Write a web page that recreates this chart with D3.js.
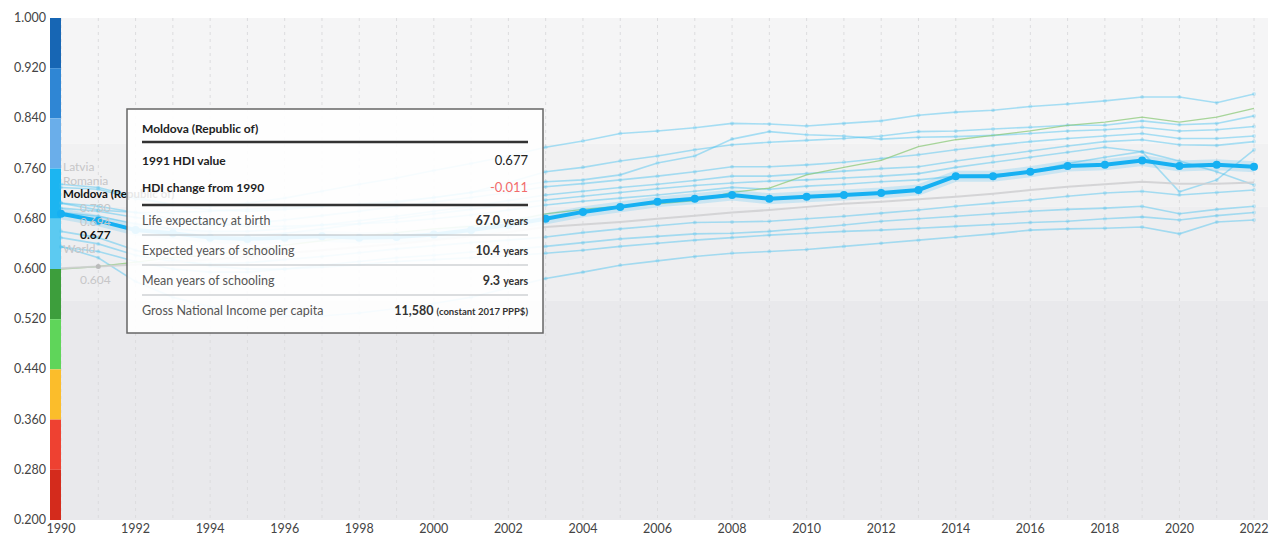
<!DOCTYPE html>
<html>
<head>
<meta charset="utf-8">
<script src="https://cdn.jsdelivr.net/npm/d3@7"></script>
<style>
  body { margin: 0; background: #fff; font-family: Lato, "Open Sans", sans-serif; }
  svg text { font-family: Lato, "Open Sans", sans-serif; }
</style>
</head>
<body>
<div id="vis-hdi"></div>
<script>
// years and tick labels
const years = [1990,1991,1992,1993,1994,1995,1996,1997,1998,1999,2000,2001,2002,2003,2004,2005,2006,2007,2008,2009,2010,2011,2012,2013,2014,2015,2016,2017,2018,2019,2020,2021,2022];
const xTicks = [1990,1992,1994,1996,1998,2000,2002,2004,2006,2008,2010,2012,2014,2016,2018,2020,2022];
const yTicks = [0.2,0.28,0.36,0.44,0.52,0.6,0.68,0.76,0.84,0.92,1.0];

// HDI series
const moldova = [.688,.677,.662,.657,.650,.648,.650,.652,.650,.651, .655,.662,.670,.680,.691,.699,.707,.712,.718,.712, .715,.718,.721,.726,.748,.748,.755,.764,.766,.773, .764,.766,.763];
const world   = [.601,.604,.607,.611,.615,.620,.625,.630,.635,.640, .646,.652,.659,.667,.671,.675,.680,.685,.690,.694, .699,.704,.707,.711,.715,.720,.726,.731,.735,.739, .736,.736,.738];
const turkiye = [.600,.604,.611,.618,.622,.630,.638,.645,.652,.658, .664,.668,.676,.688,.695,.700,.704,.709,.722,.729, .750,.762,.773,.795,.806,.813,.820,.829,.834,.842, .834,.842,.856];
const latvia  = [.730,.727,.712,.703,.700,.705,.713,.724,.735,.745, .757,.768,.780,.794,.804,.816,.820,.825,.832,.831, .828,.832,.836,.845,.850,.853,.859,.863,.868,.874, .874,.865,.879];
const russia  = [.735,.730,.715,.702,.694,.692,.695,.700,.702,.706, .714,.722,.730,.739,.742,.750,.769,.780,.807,.819, .814,.812,.807,.810,.811,.813,.816,.820,.822,.826, .820,.822,.827];
const romania = [.705,.694,.690,.690,.692,.695,.698,.700,.704,.708, .714,.722,.738,.755,.762,.772,.780,.790,.798,.802, .805,.808,.812,.819,.820,.823,.826,.829,.829,.836, .830,.832,.844];
const belarus = [.697,.692,.682,.675,.670,.672,.678,.685,.692,.700, .707,.714,.722,.731,.736,.742,.748,.755,.763,.763, .766,.770,.776,.782,.790,.797,.803,.808,.812,.816, .808,.808,.812];
const georgia = [.690,.684,.672,.664,.660,.660,.664,.670,.677,.684, .692,.700,.709,.718,.724,.730,.735,.741,.748,.748, .752,.756,.760,.763,.772,.780,.788,.796,.803,.806, .798,.797,.803];
const armenia = [.686,.678,.664,.655,.650,.652,.657,.664,.672,.680, .688,.695,.703,.710,.716,.722,.728,.733,.737,.740, .742,.745,.748,.752,.762,.770,.778,.786,.794,.787, .723,.742,.790];
const ukraine = [.705,.700,.690,.680,.672,.668,.668,.670,.672,.675, .680,.686,.694,.702,.708,.713,.718,.724,.730,.727, .732,.735,.739,.742,.748,.750,.755,.768,.778,.787, .772,.755,.734];
const azerbaijan = [.650,.640,.622,.612,.608,.610,.615,.620,.626,.632, .637,.642,.646,.651,.658,.664,.669,.674,.675,.676, .680,.684,.689,.694,.700,.705,.710,.716,.721,.724, .718,.722,.726];
const kyrgyzstan = [.635,.628,.612,.600,.595,.595,.600,.606,.612,.618, .622,.627,.631,.636,.642,.648,.652,.656,.657,.660, .665,.670,.676,.680,.684,.688,.692,.695,.697,.700, .688,.695,.700];
const uzbekistan = [.660,.650,.630,.615,.605,.600,.600,.603,.607,.612, .615,.618,.621,.625,.630,.636,.641,.646,.650,.654, .657,.660,.662,.665,.668,.671,.674,.676,.680,.683, .678,.685,.690];
const tajikistan = [.636,.618,.580,.555,.540,.530,.525,.525,.530,.537, .545,.555,.570,.585,.595,.606,.613,.620,.625,.628, .631,.636,.641,.646,.651,.656,.662,.664,.665,.667, .656,.675,.678];

const comparators = [latvia, russia, romania, belarus, georgia, armenia, ukraine, azerbaijan, kyrgyzstan, uzbekistan, tajikistan];

// HDI group bands and the colour bar
const bandBreaks = [1.0, 0.8, 0.7, 0.55, 0.2];
const bandColors = ["#f5f5f6", "#f1f1f2", "#eeeef0", "#e9e9ec"];
const barBreaks = [1.0,0.92,0.84,0.76,0.68,0.60,0.52,0.44,0.36,0.28,0.20];
const barColors = ["#1766b4","#2f86d4","#6aaeea","#1cb5f1","#5ccaf1","#3d9e3c","#5fd55a","#fbbd2b","#ee4131","#d42b1c"];

// tooltip rows
const tipLabels = ["Life expectancy at birth","Expected years of schooling","Mean years of schooling","Gross National Income per capita"];
const tipValues = ["67.0","10.4","9.3","11,580"];
const tipUnits = ["years","years","years","(constant 2017 PPP$)"];

const W = 1273, H = 535;
const svg = d3.select("#vis-hdi").append("svg")
    .attr("width", W).attr("height", H);

const x = d3.scaleLinear().domain([1990, 2022]).range([61, 1254]);
const y = d3.scaleLinear().domain([0.2, 1.0]).range([520, 18]);

// background bands
svg.selectAll("rect.band")
    .data(bandColors)
    .enter().append("rect")
    .attr("class", "band")
    .attr("x", 61).attr("width", 1268 - 61)
    .attr("y", (d, i) => y(bandBreaks[i]))
    .attr("height", (d, i) => y(bandBreaks[i + 1]) - y(bandBreaks[i]))
    .attr("fill", d => d);

// dashed year gridlines
svg.selectAll("line.grid")
    .data(years)
    .enter().append("line")
    .attr("class", "grid")
    .attr("x1", d => x(d)).attr("x2", d => x(d))
    .attr("y1", y(1)).attr("y2", y(0.2))
    .attr("stroke", "#dcdcde").attr("stroke-width", 1)
    .attr("stroke-dasharray", "3,4");

// colour bar
svg.selectAll("rect.bar")
    .data(barColors)
    .enter().append("rect")
    .attr("class", "bar")
    .attr("x", 50).attr("width", 11)
    .attr("y", (d, i) => y(barBreaks[i]))
    .attr("height", (d, i) => y(barBreaks[i + 1]) - y(barBreaks[i]))
    .attr("fill", d => d);

// y axis labels
svg.selectAll("text.ytick")
    .data(yTicks)
    .enter().append("text")
    .attr("class", "ytick")
    .attr("x", 46).attr("y", d => y(d) + 4)
    .attr("text-anchor", "end")
    .attr("font-size", 12.5).attr("fill", "#444")
    .text(d => d3.format(".3f")(d));

// x axis labels
svg.selectAll("text.xtick")
    .data(xTicks)
    .enter().append("text")
    .attr("class", "xtick")
    .attr("x", d => x(d)).attr("y", 533)
    .attr("text-anchor", "middle")
    .attr("font-size", 12.5).attr("fill", "#444")
    .text(d => d);

const line = d3.line()
    .x((d, i) => x(years[i]))
    .y(d => y(d));

// comparison countries
const comp = svg.append("g");
comparators.forEach(function (s) {
    comp.append("path")
        .attr("d", line(s))
        .attr("fill", "none")
        .attr("stroke", "#45c0f0").attr("stroke-opacity", 0.45)
        .attr("stroke-width", 1.6);
    comp.selectAll(null)
        .data(s).enter().append("circle")
        .attr("cx", (d, i) => x(years[i])).attr("cy", d => y(d))
        .attr("r", 2).attr("fill", "#45c0f0").attr("fill-opacity", 0.25);
});

comp.append("path")
    .attr("d", line(turkiye))
    .attr("fill", "none")
    .attr("stroke", "#8cc97a").attr("stroke-opacity", 0.75)
    .attr("stroke-width", 1.3);

comp.append("path")
    .attr("d", line(world))
    .attr("fill", "none")
    .attr("stroke", "#cfcfd1").attr("stroke-opacity", 0.85)
    .attr("stroke-width", 2);

// Moldova, highlighted
svg.append("path")
    .attr("d", line(moldova))
    .attr("fill", "none")
    .attr("stroke", "#1ab2f2").attr("stroke-opacity", 0.18)
    .attr("stroke-width", 11);
svg.append("path")
    .attr("d", line(moldova))
    .attr("fill", "none")
    .attr("stroke", "#16b0f2")
    .attr("stroke-width", 4);
svg.selectAll("circle.md")
    .data(moldova).enter().append("circle")
    .attr("class", "md")
    .attr("cx", (d, i) => x(years[i])).attr("cy", d => y(d))
    .attr("r", 4).attr("fill", "#16b0f2");

// hover marker on World in 1991
svg.append("circle")
    .attr("cx", x(1991)).attr("cy", y(world[1]))
    .attr("r", 2.5).attr("fill", "#bbb");

// left labels
const faded = "#c6c6c8";
svg.append("text").attr("x", 63).attr("y", 171).attr("font-size", 12).attr("fill", faded).text("Latvia");
svg.append("text").attr("x", 63).attr("y", 185).attr("font-size", 12).attr("fill", faded).text("Romania");
svg.append("text").attr("x", 80).attr("y", 212).attr("font-size", 12).attr("fill", faded).text("0.730");
svg.append("text").attr("x", 80).attr("y", 226).attr("font-size", 12).attr("fill", faded).text("0.694");
svg.append("text").attr("x", 63).attr("y", 198).attr("font-size", 11.5).attr("font-weight", "bold")
    .attr("fill", "#111").text("Moldova (Republic of)");
svg.append("text").attr("x", 80).attr("y", 239).attr("font-size", 12).attr("font-weight", "bold")
    .attr("fill", "#111").text(d3.format(".3f")(moldova[1]));
svg.append("text").attr("x", 63).attr("y", 253).attr("font-size", 12).attr("fill", faded).text("World");
svg.append("text").attr("x", 80).attr("y", 284).attr("font-size", 12).attr("fill", faded).text(d3.format(".3f")(world[1]));

// tooltip
const tip = svg.append("g");
tip.append("rect")
    .attr("x", 127).attr("y", 109).attr("width", 416).attr("height", 224)
    .attr("fill", "#fff").attr("fill-opacity", 0.9)
    .attr("stroke", "#666").attr("stroke-width", 1.5);

const tl = 142, tr = 528;
tip.append("text").attr("x", tl).attr("y", 133).attr("font-size", 12).attr("font-weight", "bold")
    .attr("fill", "#222").text("Moldova (Republic of)");
tip.append("line").attr("x1", tl).attr("x2", tr).attr("y1", 142).attr("y2", 142)
    .attr("stroke", "#333").attr("stroke-width", 2.5);
tip.append("text").attr("x", tl).attr("y", 165).attr("font-size", 12).attr("font-weight", "bold")
    .attr("fill", "#222").text("1991 HDI value");
tip.append("text").attr("x", tr).attr("y", 165).attr("font-size", 13).attr("text-anchor", "end")
    .attr("fill", "#222").text(d3.format(".3f")(moldova[1]));
tip.append("text").attr("x", tl).attr("y", 192).attr("font-size", 12).attr("font-weight", "bold")
    .attr("fill", "#222").text("HDI change from 1990");
tip.append("text").attr("x", tr).attr("y", 192).attr("font-size", 13).attr("text-anchor", "end")
    .attr("fill", "#f26b6b").text(d3.format(".3f")(moldova[1] - moldova[0]).replace("\u2212", "-"));
tip.append("line").attr("x1", tl).attr("x2", tr).attr("y1", 205).attr("y2", 205)
    .attr("stroke", "#333").attr("stroke-width", 2.5);

tipLabels.forEach(function (lab, i) {
    const yy = 225 + i * 30;
    tip.append("text").attr("x", tl).attr("y", yy).attr("font-size", 12.5)
        .attr("fill", "#555").text(lab);
    const t = tip.append("text").attr("x", tr).attr("y", yy).attr("text-anchor", "end")
        .attr("font-weight", "bold").attr("fill", "#333");
    t.append("tspan").attr("font-size", 12.5).text(tipValues[i] + " ");
    t.append("tspan").attr("font-size", i === 3 ? 9.5 : 10.5).text(tipUnits[i]);
    if (i < 3) {
        tip.append("line").attr("x1", tl).attr("x2", tr).attr("y1", yy + 10).attr("y2", yy + 10)
            .attr("stroke", "#b8bcc0").attr("stroke-width", 1);
    }
});
</script>
</body>
</html>
